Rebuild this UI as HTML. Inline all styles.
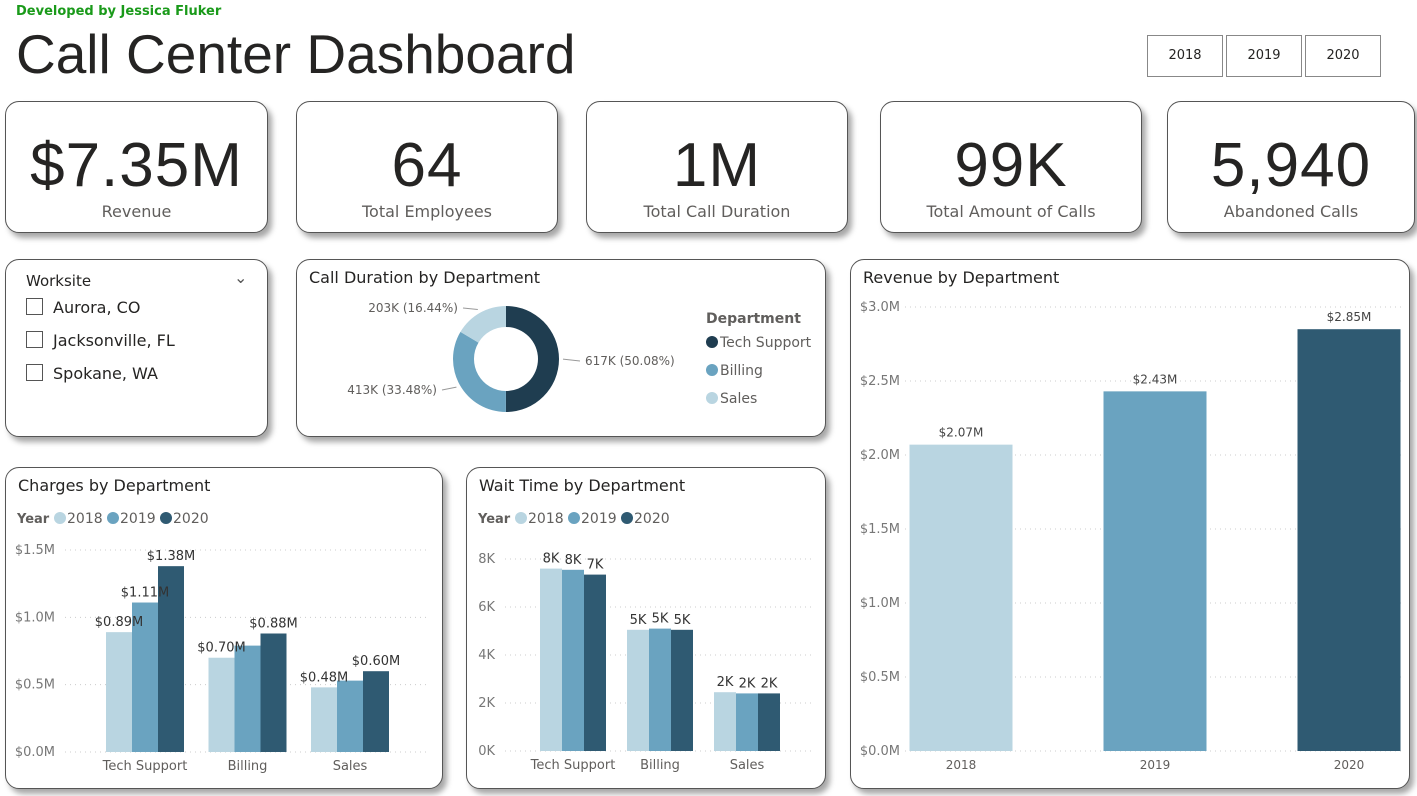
<!DOCTYPE html>
<html><head><meta charset="utf-8"><style>
body{margin:0;width:1417px;height:796px;background:#fff;font-family:"DejaVu Sans","Liberation Sans",sans-serif;position:relative;overflow:hidden;color:#252423}
.card{position:absolute;background:#fff;border:1.5px solid #555;border-radius:14px;box-shadow:4px 5px 6px rgba(0,0,0,.35);box-sizing:border-box}
.kv{position:absolute;left:0;right:0;top:28px;text-align:center;font-size:62px;color:#252423;font-family:"Liberation Sans",sans-serif;letter-spacing:1px}
.kl{position:absolute;left:0;right:0;top:100px;text-align:center;font-size:16px;color:#605e5c}
.title{position:absolute;left:12px;top:8px;font-size:16px;color:#252423}
.yb{position:absolute;top:35px;width:76px;height:42px;border:1px solid #888;box-sizing:border-box;font-size:13px;text-align:center;line-height:40px}
svg text{font-family:"DejaVu Sans","Liberation Sans",sans-serif}
</style></head><body>
<div style="position:absolute;left:16px;top:4px;font-size:13px;font-weight:bold;color:#1a9a1a">Developed by Jessica Fluker</div>
<div style="position:absolute;left:16px;top:22px;font-size:55px;color:#252423;font-family:'Liberation Sans',sans-serif">Call Center Dashboard</div>
<div class="yb" style="left:1147px">2018</div>
<div class="yb" style="left:1226px">2019</div>
<div class="yb" style="left:1305px">2020</div>

<div class="card" style="left:5px;top:101px;width:263px;height:132px"><div class="kv">$7.35M</div><div class="kl">Revenue</div></div>
<div class="card" style="left:296px;top:101px;width:262px;height:132px"><div class="kv">64</div><div class="kl">Total Employees</div></div>
<div class="card" style="left:586px;top:101px;width:262px;height:132px"><div class="kv">1M</div><div class="kl">Total Call Duration</div></div>
<div class="card" style="left:880px;top:101px;width:262px;height:132px"><div class="kv">99K</div><div class="kl">Total Amount of Calls</div></div>
<div class="card" style="left:1167px;top:101px;width:248px;height:132px"><div class="kv">5,940</div><div class="kl">Abandoned Calls</div></div>

<div class="card" style="left:5px;top:259px;width:263px;height:178px">
 <div style="position:absolute;left:20px;top:12px;font-size:15px">Worksite</div>
 <div style="position:absolute;left:228px;top:8px;font-size:16px;color:#555">&#8964;</div>
 <div style="position:absolute;left:20px;top:38px;font-size:16px"><span style="display:inline-block;width:15px;height:15px;border:1px solid #555;vertical-align:-2px;margin-right:10px"></span>Aurora, CO</div>
 <div style="position:absolute;left:20px;top:71px;font-size:16px"><span style="display:inline-block;width:15px;height:15px;border:1px solid #555;vertical-align:-2px;margin-right:10px"></span>Jacksonville, FL</div>
 <div style="position:absolute;left:20px;top:104px;font-size:16px"><span style="display:inline-block;width:15px;height:15px;border:1px solid #555;vertical-align:-2px;margin-right:10px"></span>Spokane, WA</div>
</div>

<div class="card" style="left:296px;top:259px;width:530px;height:178px"><div class="title">Call Duration by Department</div></div>
<div class="card" style="left:850px;top:259px;width:560px;height:530px"><div class="title">Revenue by Department</div></div>
<div class="card" style="left:5px;top:467px;width:438px;height:322px"><div class="title">Charges by Department</div></div>
<div class="card" style="left:466px;top:467px;width:360px;height:322px"><div class="title">Wait Time by Department</div></div>

<svg id="s" width="1417" height="796" style="position:absolute;left:0;top:0"></svg>
<script>
const depts=["Tech Support","Billing","Sales"];
const years=["2018","2019","2020"];
const charges2018=[0.89,0.70,0.48];
const charges2019=[1.11,0.79,0.53];
const charges2020=[1.38,0.88,0.60];
const chargeLabels2018=["$0.89M","$0.70M","$0.48M"];
const chargeLabels2020=["$1.38M","$0.88M","$0.60M"];
const chargeLabels2019=["$1.11M","",""];
const chargeTicks=[0,0.5,1.0,1.5];
const wait2018=[7.6,5.05,2.45];
const wait2019=[7.55,5.1,2.4];
const wait2020=[7.35,5.05,2.4];
const waitLabels2018=["8K","5K","2K"];
const waitLabels2019=["8K","5K","2K"];
const waitLabels2020=["7K","5K","2K"];
const waitTicks=[0,2,4,6,8];
const revenueYears=["2018","2019","2020"];
const revenueValues=[2.07,2.43,2.85];
const revenueLabels=["$2.07M","$2.43M","$2.85M"];
const revenueTicks=[0,0.5,1.0,1.5,2.0,2.5,3.0];
const donutDepts=["Tech Support","Billing","Sales"];
const donutValues=[617,413,203];
const donutLabels=["617K (50.08%)","413K (33.48%)","203K (16.44%)"];
const C=["#b9d5e1","#6aa3c0","#2f5a72"];
const DC=["#1f3d50","#6aa3c0","#b9d5e1"];
const S=document.getElementById('s');const NS="http://www.w3.org/2000/svg";
function el(t,a,txt){const e=document.createElementNS(NS,t);for(const k in a)e.setAttribute(k,a[k]);if(txt!=null)e.textContent=txt;S.appendChild(e);return e;}
function legend(x,y,name){
 const t=el('text',{x:x,y:y,'font-size':13,'font-weight':'bold',fill:'#605e5c'},'Year');
 
 years.forEach((yr,i)=>{const cx=x+43+i*53;
  const c=el('circle',{cx:cx,cy:y-5,r:6,fill:C[i]});
  const l=el('text',{x:cx+7,y:y,'font-size':14,fill:'#605e5c'},yr);});
}
function grouped(o){
 const y=v=>o.y0-(v/o.max)*(o.y0-o.y1);
 o.ticks.forEach(t=>{el('line',{x1:o.gx1,x2:o.gx2,y1:y(t),y2:y(t),stroke:'#ccc','stroke-dasharray':'1,4'});
  const tl=el('text',{x:o.lx,y:y(t)+4,'font-size':13,fill:'#777','text-anchor':'end'},o.tf(t));});
 const series=[o.s1,o.s2,o.s3],labs=[o.l1,o.l2,o.l3];
 depts.forEach((d,i)=>{const c=o.c0+i*o.band;
  series.forEach((s,j)=>{const x=c-1.5*o.bw+j*o.bw;
   const r=el('rect',{x:x,y:y(s[i]),width:o.bw,height:o.y0-y(s[i]),fill:C[j]});
  });
  const xl=el('text',{x:c,y:o.y0+18,'font-size':13,fill:'#605e5c','text-anchor':'middle'},d);
 });
 depts.forEach((d,i)=>{const c=o.c0+i*o.band;
  series.forEach((s,j)=>{const x=c-1.5*o.bw+j*o.bw;
   if(labs[j][i]){const lt=el('text',{x:x+o.bw/2,y:y(s[i])-6,'font-size':13,fill:'#333','text-anchor':'middle'},labs[j][i]);}
  });});
}
legend(17,523,'charges');legend(478,523,'wait');
grouped({name:'charges',y0:752,y1:550,max:1.5,ticks:chargeTicks,tf:t=>'$'+t.toFixed(1)+'M',lx:55,gx1:65,gx2:430,c0:145,band:102.5,bw:26,s1:charges2018,s2:charges2019,s3:charges2020,l1:chargeLabels2018,l2:chargeLabels2019,l3:chargeLabels2020});
grouped({name:'wait',y0:751,y1:559,max:8,ticks:waitTicks,tf:t=>t+'K',lx:495,gx1:505,gx2:815,c0:573,band:87,bw:22,s1:wait2018,s2:wait2019,s3:wait2020,l1:waitLabels2018,l2:waitLabels2019,l3:waitLabels2020});
// revenue
(function(){const y0=751,y1=307,max=3;const y=v=>y0-(v/max)*(y0-y1);
 revenueTicks.forEach(t=>{el('line',{x1:905,x2:1402,y1:y(t),y2:y(t),stroke:'#ccc','stroke-dasharray':'1,4'});
  const tl=el('text',{x:900,y:y(t)+4,'font-size':13,fill:'#777','text-anchor':'end'},'$'+t.toFixed(1)+'M');});
 revenueValues.forEach((v,i)=>{const c=961+i*194,w=103;
  const r=el('rect',{x:c-w/2,y:y(v),width:w,height:y0-y(v),fill:C[i]});
  const lt=el('text',{x:c,y:y(v)-8,'font-size':12,fill:'#444','text-anchor':'middle'},revenueLabels[i]);
  const xl=el('text',{x:c,y:769,'font-size':12,fill:'#605e5c','text-anchor':'middle'},revenueYears[i]);});
})();
// donut
(function(){const cx=506,cy=359,R=53,r=32;const tot=donutValues.reduce((a,b)=>a+b,0);let a=-Math.PI/2;
 const lp=[[585,365,'start'],[437,394,'end'],[458,312,'end']];
 donutValues.forEach((v,i)=>{const a2=a+v/tot*2*Math.PI;const lg=a2-a>Math.PI?1:0;
  const p=(rad,ang)=>[cx+rad*Math.cos(ang),cy+rad*Math.sin(ang)];
  const [x1,y1]=p(R,a),[x2,y2]=p(R,a2),[x3,y3]=p(r,a2),[x4,y4]=p(r,a);
  const s=el('path',{d:`M${x1},${y1}A${R},${R} 0 ${lg} 1 ${x2},${y2}L${x3},${y3}A${r},${r} 0 ${lg} 0 ${x4},${y4}Z`,fill:DC[i]});
  
  const m=(a+a2)/2;const [ex,ey]=p(R+4,m);const dx=Math.cos(m)>0?1:-1;
  el('polyline',{points:`${ex},${ey} ${lp[i][0]-dx*5},${lp[i][1]-4}`,fill:'none',stroke:'#999'});
  const lt=el('text',{x:lp[i][0],y:lp[i][1],'font-size':12,fill:'#605e5c','text-anchor':lp[i][2]},donutLabels[i]);
  a=a2;});
 const lt=el('text',{x:706,y:323,'font-size':14,'font-weight':'bold',fill:'#605e5c'},'Department');
 donutDepts.forEach((d,i)=>{const yy=347+i*28;
  const c=el('circle',{cx:712,cy:yy-5,r:6,fill:DC[i]});
  const t=el('text',{x:720,y:yy,'font-size':14,fill:'#605e5c'},d);});
})();
</script>
</body></html>
